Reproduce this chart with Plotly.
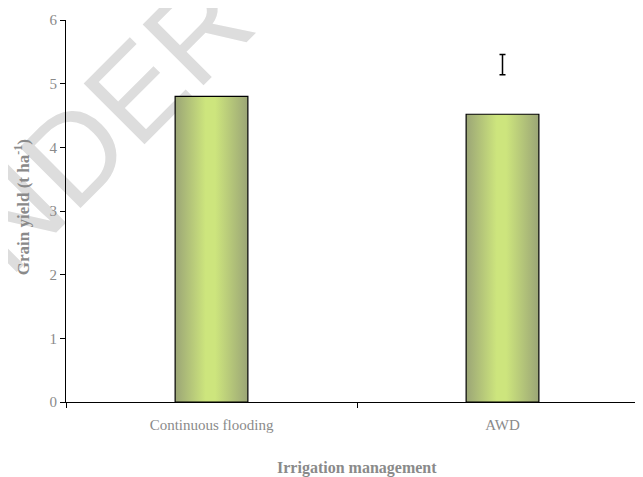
import plotly.graph_objects as go

categories = ["Continuous flooding", "AWD"]
grain_yield = [4.80, 4.52]
err_center = [5.30]
err_half = [0.16]
err_category_index = [1]
y_ticks = [0, 1, 2, 3, 4, 5, 6]

BAR_W = 0.25
grad = [[0, "#9ba576"], [0.42, "#cde57d"], [0.55, "#cde57d"], [1, "#9ba576"]]
XR = [-0.5, 1.5]
SERIF = "Liberation Serif, serif"
GRAY = "#8a8a8a"

fig = go.Figure()

# invisible bars on category axis to set categories
fig.add_trace(go.Bar(x=categories, y=grain_yield, marker_color="rgba(0,0,0,0)",
                     marker_line_width=0, hoverinfo="skip", showlegend=False))

# gradient bars on an overlaid numeric axis
for i, v in enumerate(grain_yield):
    x0, x1 = i - BAR_W / 2, i + BAR_W / 2
    fig.add_trace(go.Scatter(
        x=[x0, x0, x1, x1, x0], y=[0, v, v, 0, 0],
        xaxis="x2", mode="lines", fill="toself",
        fillgradient=dict(type="horizontal", colorscale=grad),
        line=dict(color="black", width=1.2), hoverinfo="skip", showlegend=False))

fig.add_trace(go.Scatter(
    x=err_category_index, y=err_center, xaxis="x2", mode="markers",
    marker=dict(size=1, color="rgba(0,0,0,0)"),
    error_y=dict(type="data", array=err_half, color="black", thickness=1.5, width=3),
    hoverinfo="skip", showlegend=False))

# page body has an 8px margin, so the figure is laid out 8px up/left
fig.update_layout(
    width=643, height=477,
    margin=dict(l=58, r=3, t=12, b=83),
    paper_bgcolor="white", plot_bgcolor="rgba(0,0,0,0)",
    showlegend=False,
    xaxis=dict(type="category", categoryorder="array", categoryarray=categories,
               range=XR, tickson="boundaries", ticks="outside", ticklen=5,
               tickcolor="black", showline=True, linecolor="black", linewidth=1.2,
               showgrid=False, zeroline=False, ticklabelstandoff=9,
               tickfont=dict(family=SERIF, size=15, color=GRAY)),
    xaxis2=dict(overlaying="x", range=XR, visible=False),
    yaxis=dict(range=[0, 6], tickvals=y_ticks, ticks="outside", ticklen=5,
               tickcolor="black", showline=True, linecolor="black", linewidth=1.2,
               showgrid=False, zeroline=False, ticklabelstandoff=0,
               tickfont=dict(family=SERIF, size=15, color=GRAY)),
    shapes=[dict(type="rect", xref="paper", yref="paper",
                 x0=0.29, x1=0.343, y0=1.13, y1=1.184, layer="below",
                 line=dict(width=0), fillcolor="rgba(0,0,0,0)",
                 label=dict(text="UNDER REVIEW", textangle=-45,
                            textposition="middle center",
                            font=dict(family="Liberation Sans, sans-serif",
                                      size=125, color="#dddddd")))],
    annotations=[
        dict(text="<b>Grain yield (t ha<sup>-1</sup>)</b>", xref="paper", yref="paper",
             x=-0.0756, y=0.51, xanchor="center", yanchor="middle", textangle=-90,
             showarrow=False, font=dict(family=SERIF, size=17, color=GRAY)),
        dict(text="<b>Irrigation management</b>", xref="x2", yref="paper",
             x=0.5, y=-0.173, xanchor="center", yanchor="middle",
             showarrow=False, font=dict(family=SERIF, size=16, color=GRAY)),
    ],
)

fig.write_html("out.html")
